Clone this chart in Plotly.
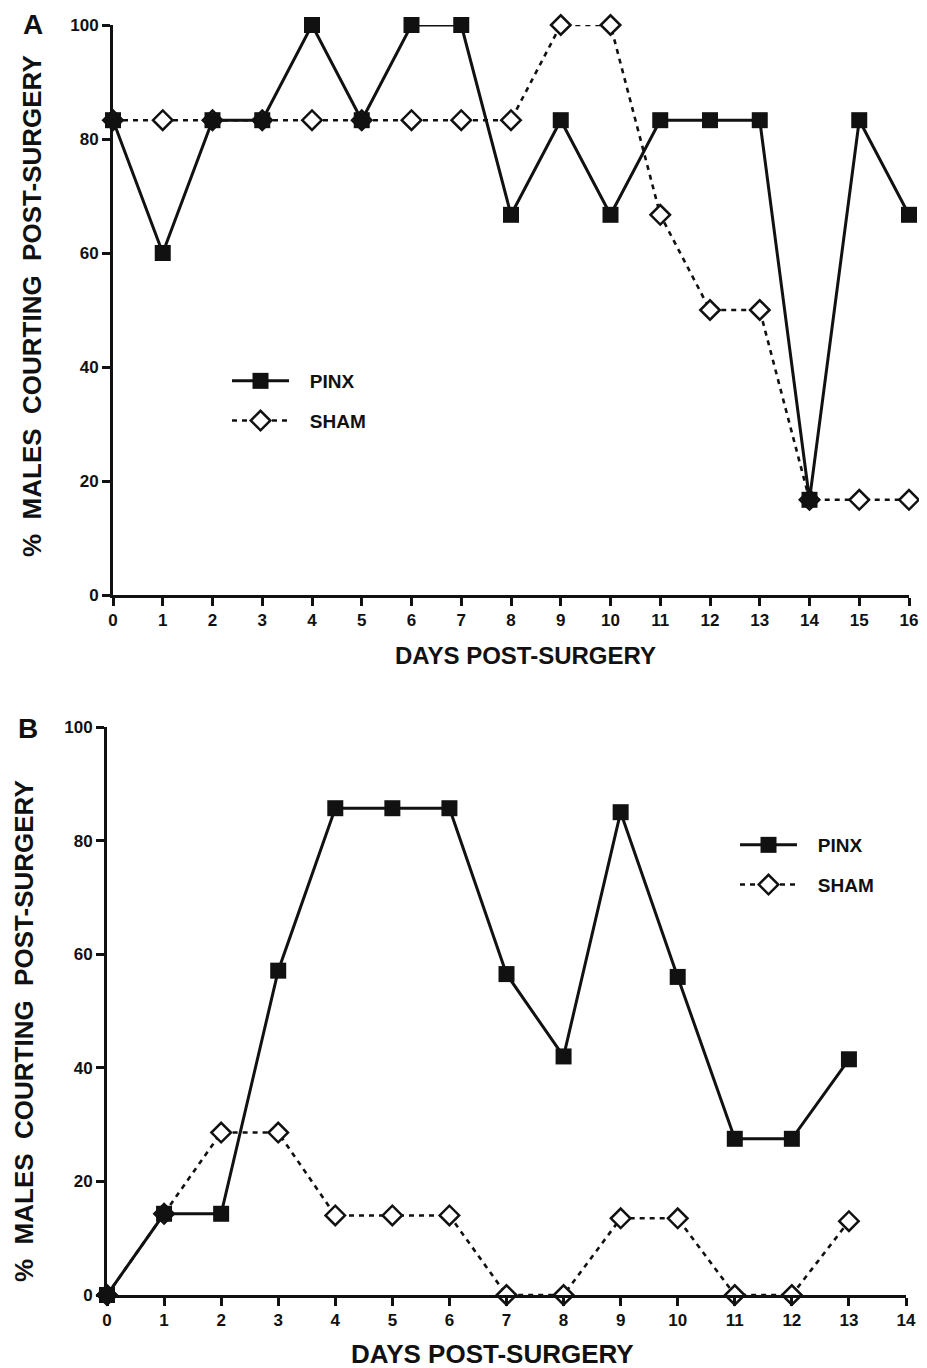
import plotly.graph_objects as go

# ---------------- data ----------------
days_a = [0, 1, 2, 3, 4, 5, 6, 7, 8, 9, 10, 11, 12, 13, 14, 15, 16]
pinx_a = [83.3, 60.0, 83.3, 83.3, 100.0, 83.3, 100.0, 100.0, 66.7, 83.3, 66.7, 83.3, 83.3, 83.3, 16.7, 83.3, 66.7]
sham_a = [83.3, 83.3, 83.3, 83.3, 83.3, 83.3, 83.3, 83.3, 83.3, 100.0, 100.0, 66.7, 50.0, 50.0, 16.7, 16.7, 16.7]

days_b = [0, 1, 2, 3, 4, 5, 6, 7, 8, 9, 10, 11, 12, 13]
pinx_b = [0.0, 14.3, 14.3, 57.1, 85.7, 85.7, 85.7, 56.5, 42.0, 85.0, 56.0, 27.5, 27.5, 41.5]
sham_b = [0.0, 14.3, 28.6, 28.6, 14.0, 14.0, 14.0, 0.0, 0.0, 13.5, 13.5, 0.0, 0.0, 13.0]

y_ticks = [0, 20, 40, 60, 80, 100]
x_ticks_a = list(range(0, 17))
x_ticks_b = list(range(0, 15))
series_names = ["PINX", "SHAM"]
x_title = "DAYS POST-SURGERY"
y_title = "%\u00a0\u00a0MALES\u00a0\u00a0COURTING\u00a0\u00a0POST-SURGERY"

# ---------------- style ----------------
OFF = 8  # page body margin of the browser
W, H = 927, 1368
FONT = "Liberation Sans, Arial, Helvetica, sans-serif"
BLACK = "#111111"
PAD = "\u00a0\u00a0\u00a0"  # gap between legend sample and legend text


def px_x(p):
    return (p - OFF) / W


def px_y(p):
    return 1 - (p - OFF) / H


fig = go.Figure()

sham_line = dict(color=BLACK, width=2.6, dash="5px,5px")
pinx_line = dict(color=BLACK, width=3)
sham_marker = dict(symbol="diamond", size=15, color="white", line=dict(color=BLACK, width=2.5))
pinx_marker = dict(symbol="square", size=16, color=BLACK, line=dict(color=BLACK, width=0))

# Panel A
fig.add_trace(go.Scatter(x=days_a, y=sham_a, mode="lines+markers", name=PAD + series_names[1],
                         line=sham_line, marker=sham_marker, cliponaxis=False,
                         xaxis="x", yaxis="y", legend="legend", legendgroup="sa", legendrank=2))
fig.add_trace(go.Scatter(x=days_a, y=pinx_a, mode="lines+markers", name=PAD + series_names[0],
                         line=pinx_line, marker=pinx_marker, cliponaxis=False,
                         xaxis="x", yaxis="y", legend="legend", legendgroup="pa", legendrank=1))
# Panel B
fig.add_trace(go.Scatter(x=days_b, y=sham_b, mode="lines+markers", name=PAD + series_names[1],
                         line=sham_line, marker=sham_marker, cliponaxis=False,
                         xaxis="x2", yaxis="y2", legend="legend2", legendgroup="sb", legendrank=2))
fig.add_trace(go.Scatter(x=days_b, y=pinx_b, mode="lines+markers", name=PAD + series_names[0],
                         line=pinx_line, marker=pinx_marker, cliponaxis=False,
                         xaxis="x2", yaxis="y2", legend="legend2", legendgroup="pb", legendrank=1))

tickfont = dict(family=FONT, size=17, color=BLACK, weight="bold")
axis_common = dict(showline=True, linewidth=3, linecolor=BLACK, showgrid=False, zeroline=False,
                   ticks="outside", ticklen=8, tickwidth=2.5, tickcolor=BLACK,
                   tickfont=tickfont, automargin=False, fixedrange=True,
                   ticklabeloverflow="allow")

legend_font = dict(family=FONT, size=19, color=BLACK, weight="bold")

fig.update_layout(
    width=W, height=H,
    margin=dict(l=0, r=0, t=0, b=0, autoexpand=False),
    paper_bgcolor="white", plot_bgcolor="white",
    showlegend=True,
    xaxis=dict(domain=[px_x(113), px_x(909)], range=[0, 16], tickvals=x_ticks_a,
               anchor="y", **axis_common),
    yaxis=dict(domain=[px_y(595), px_y(25)], range=[0, 100], tickvals=y_ticks,
               anchor="x", **axis_common),
    xaxis2=dict(domain=[px_x(107), px_x(906)], range=[0, 14], tickvals=x_ticks_b,
                anchor="y2", **axis_common),
    yaxis2=dict(domain=[px_y(1295), px_y(727)], range=[0, 100], tickvals=y_ticks,
                anchor="x2", **axis_common),
    legend=dict(x=px_x(227), y=px_y(401), xanchor="left", yanchor="middle",
                traceorder="grouped", tracegroupgap=12, bgcolor="rgba(0,0,0,0)",
                font=legend_font, itemsizing="trace", itemwidth=57),
    legend2=dict(x=px_x(735), y=px_y(865), xanchor="left", yanchor="middle",
                 traceorder="grouped", tracegroupgap=12, bgcolor="rgba(0,0,0,0)",
                 font=legend_font, itemsizing="trace", itemwidth=57),
)

title_font_a = dict(family=FONT, size=24, color=BLACK, weight="bold")
title_font_b = dict(family=FONT, size=26, color=BLACK, weight="bold")
ytitle_font_a = dict(family=FONT, size=26, color=BLACK, weight="bold")
ytitle_font_b = dict(family=FONT, size=26, color=BLACK, weight="bold")
label_font = dict(family=FONT, size=28, color=BLACK, weight="bold")

annotations = [
    dict(text=x_title, x=px_x(525), y=px_y(655), xref="paper", yref="paper",
         xanchor="center", yanchor="middle", showarrow=False, font=title_font_a),
    dict(text=x_title, x=px_x(493), y=px_y(1354), xref="paper", yref="paper",
         xanchor="center", yanchor="middle", showarrow=False, font=title_font_b),
    dict(text=y_title, x=px_x(32), y=px_y(306), xref="paper", yref="paper", textangle=-90,
         xanchor="center", yanchor="middle", showarrow=False, font=ytitle_font_a),
    dict(text=y_title, x=px_x(24), y=px_y(1031), xref="paper", yref="paper", textangle=-90,
         xanchor="center", yanchor="middle", showarrow=False, font=ytitle_font_b),
    dict(text="A", x=px_x(33), y=px_y(24), xref="paper", yref="paper",
         xanchor="center", yanchor="middle", showarrow=False, font=label_font),
    dict(text="B", x=px_x(28), y=px_y(728), xref="paper", yref="paper",
         xanchor="center", yanchor="middle", showarrow=False, font=label_font),
]
fig.update_layout(annotations=annotations)

fig.write_html("out.html")
